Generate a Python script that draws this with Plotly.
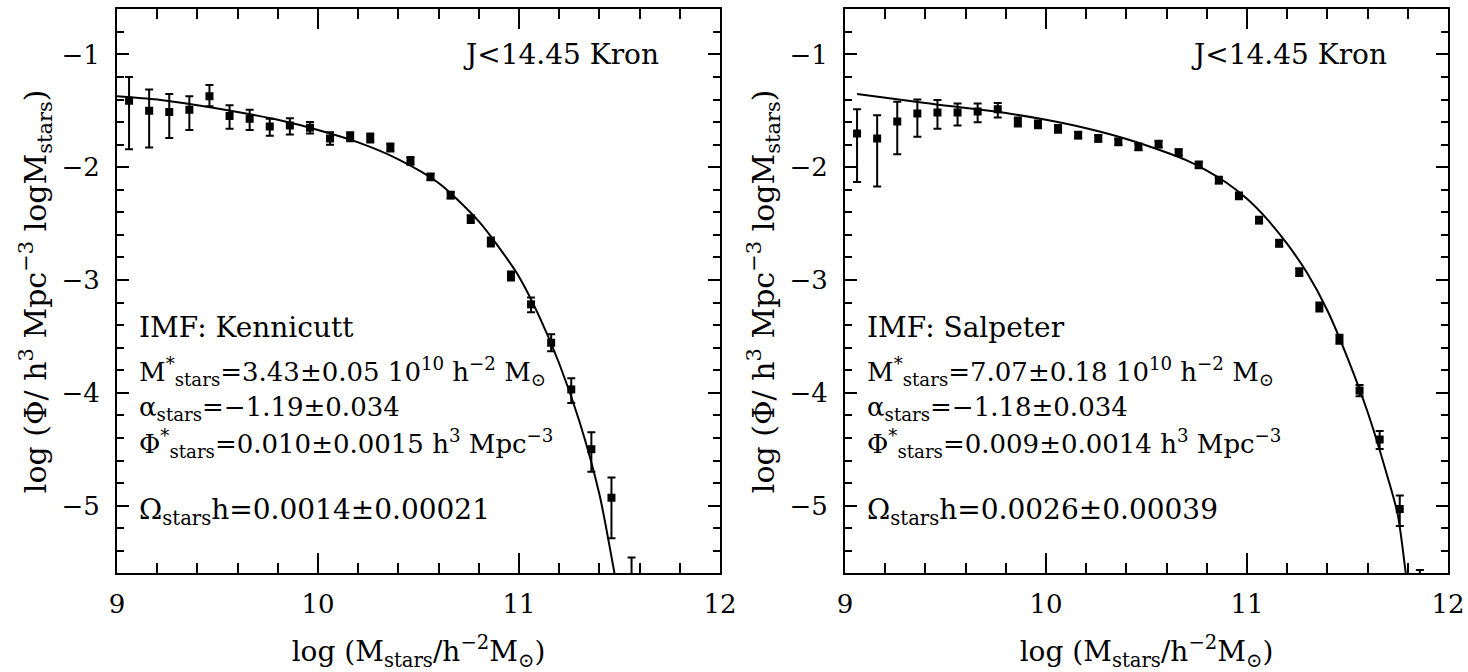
import plotly.graph_objects as go

# ---------------- data ----------------
left_x = [9.06, 9.16, 9.26, 9.36, 9.46, 9.56, 9.66, 9.76, 9.86, 9.96,
          10.06, 10.16, 10.26, 10.36, 10.46, 10.56, 10.66, 10.76, 10.86, 10.96,
          11.06, 11.16, 11.26, 11.36, 11.46, 11.56]
left_y = [-1.41, -1.50, -1.51, -1.49, -1.37, -1.545, -1.57, -1.64, -1.63, -1.65,
          -1.745, -1.73, -1.74, -1.825, -1.944, -2.086, -2.248, -2.46, -2.663, -2.964,
          -3.216, -3.556, -3.97, -4.50, -4.93, -5.90]
left_err_plus = [0.21, 0.19, 0.16, 0.12, 0.10, 0.095, 0.08, 0.07, 0.065, 0.05,
                 0.055, 0.04, 0.04, 0.035, 0.035, 0.03, 0.03, 0.035, 0.04, 0.04,
                 0.06, 0.075, 0.10, 0.15, 0.18, 0.44]
left_err_minus = [0.43, 0.325, 0.23, 0.18, 0.09, 0.115, 0.10, 0.08, 0.08, 0.05,
                  0.055, 0.04, 0.04, 0.035, 0.035, 0.03, 0.03, 0.035, 0.04, 0.04,
                  0.07, 0.075, 0.12, 0.20, 0.36, 1.0]

right_x = [9.06, 9.16, 9.26, 9.36, 9.46, 9.56, 9.66, 9.76, 9.86, 9.96,
           10.06, 10.16, 10.26, 10.36, 10.46, 10.56, 10.66, 10.76, 10.86, 10.96,
           11.06, 11.16, 11.26, 11.36, 11.46, 11.56, 11.66, 11.76, 11.86]
right_y = [-1.70, -1.745, -1.595, -1.524, -1.515, -1.515, -1.506, -1.485, -1.60, -1.62,
           -1.66, -1.716, -1.745, -1.775, -1.82, -1.796, -1.87, -1.98, -2.115, -2.255,
           -2.47, -2.674, -2.93, -3.24, -3.526, -3.98, -4.414, -5.03, -5.90]
right_err_plus = [0.215, 0.205, 0.175, 0.125, 0.11, 0.08, 0.07, 0.055, 0.04, 0.035,
                  0.035, 0.03, 0.03, 0.03, 0.03, 0.03, 0.03, 0.03, 0.03, 0.03,
                  0.03, 0.03, 0.035, 0.04, 0.04, 0.05, 0.075, 0.12, 0.33]
right_err_minus = [0.43, 0.425, 0.29, 0.205, 0.145, 0.115, 0.095, 0.075, 0.04, 0.035,
                   0.035, 0.03, 0.03, 0.03, 0.03, 0.03, 0.03, 0.03, 0.03, 0.03,
                   0.03, 0.03, 0.035, 0.04, 0.04, 0.05, 0.085, 0.15, 1.0]

left_fit_x = [9.0, 9.2, 9.4, 9.6, 9.8, 10.0, 10.2, 10.4, 10.6, 10.8, 10.9,
              11.0, 11.1, 11.2, 11.3, 11.4, 11.47, 11.5]
left_fit_y = [-1.37, -1.40, -1.45, -1.51, -1.58, -1.67, -1.78, -1.93, -2.14, -2.48, -2.71,
              -2.97, -3.32, -3.74, -4.25, -4.90, -5.55, -5.85]

right_fit_x = [9.06, 9.4, 9.8, 10.0, 10.2, 10.4, 10.6, 10.7, 10.8, 10.9, 11.0,
               11.1, 11.2, 11.3, 11.4, 11.5, 11.6, 11.7, 11.75, 11.79, 11.81]
right_fit_y = [-1.35, -1.43, -1.52, -1.58, -1.655, -1.75, -1.87, -1.94, -2.03, -2.14, -2.28,
               -2.46, -2.68, -2.94, -3.27, -3.69, -4.17, -4.75, -5.08, -5.6, -5.85]

x_ticks = [9, 10, 11, 12]
y_ticks = [-5, -4, -3, -2, -1]

panel_label = "J<14.45 Kron"
left_imf = "Kennicutt"
right_imf = "Salpeter"
left_params = ["3.43±0.05", "−1.19±0.034", "0.010±0.0015", "0.0014±0.00021"]
right_params = ["7.07±0.18", "−1.18±0.034", "0.009±0.0014", "0.0026±0.00039"]

# ---------------- figure ----------------
FONT = "DejaVu Serif"
W, H = 1468, 672
fig = go.Figure()

def add_panel(xs, ys, ep, em, fx, fy, xa, ya):
    fig.add_trace(go.Scatter(
        x=fx, y=fy, mode="lines", line=dict(color="black", width=2, shape="spline", smoothing=0.8),
        xaxis=xa, yaxis=ya, showlegend=False, hoverinfo="skip"))
    fig.add_trace(go.Scatter(
        x=xs, y=ys, mode="markers",
        marker=dict(symbol="square", size=8, color="black"),
        error_y=dict(type="data", symmetric=False, array=ep, arrayminus=em,
                     color="black", thickness=2, width=4),
        xaxis=xa, yaxis=ya, showlegend=False))

add_panel(left_x, left_y, left_err_plus, left_err_minus, left_fit_x, left_fit_y, "x", "y")
add_panel(right_x, right_y, right_err_plus, right_err_minus, right_fit_x, right_fit_y, "x2", "y2")

xdoms = [[117 / W, 720 / W], [845 / W, 1448 / W]]
ydom = [(H - 573.3) / H, (H - 9.3) / H]

xtitle = "log (M<sub>stars</sub>/h<sup>−2</sup>M<sub>⊙</sub>)"
ytitle = "log (Φ/ h<sup>3</sup> Mpc<sup>−3</sup> logM<sub>stars</sub>)"

for i, (xn, yn) in enumerate([("xaxis", "yaxis"), ("xaxis2", "yaxis2")]):
    fig.layout[xn] = dict(
        domain=xdoms[i], range=[9, 12], tickvals=x_ticks, ticktext=[str(t) for t in x_ticks],
        ticks="inside", ticklen=20, tickwidth=2, tickcolor="black",
        minor=dict(dtick=0.2, tick0=9, ticks="inside", ticklen=10, tickwidth=2, tickcolor="black"),
        showline=True, linewidth=2, linecolor="black", mirror="ticks",
        showgrid=False, zeroline=False, anchor="y" if i == 0 else "y2",
        tickfont=dict(family=FONT, size=26, color="black"), ticklabelstandoff=6,
        title=dict(text=xtitle, font=dict(family=FONT, size=28, color="black"), standoff=26),
        automargin=False)
    fig.layout[yn] = dict(
        domain=ydom, range=[-5.6, -0.6], tickvals=y_ticks, ticktext=["−5", "−4", "−3", "−2", "−1"],
        ticks="inside", ticklen=12, tickwidth=2, tickcolor="black",
        minor=dict(dtick=0.2, tick0=-1, ticks="inside", ticklen=7, tickwidth=2, tickcolor="black"),
        showline=True, linewidth=2, linecolor="black", mirror="ticks",
        showgrid=False, zeroline=False, anchor="x" if i == 0 else "x2",
        tickfont=dict(family=FONT, size=26, color="black"), ticklabelstandoff=10,
        title=dict(text=ytitle, font=dict(family=FONT, size=30, color="black"), standoff=6),
        automargin=False)

annots = []
def txt(xref, yref, x, y, s, size=28, xanchor="left", yanchor="middle"):
    annots.append(dict(xref=xref, yref=yref, x=x, y=y, text=s, showarrow=False,
                       xanchor=xanchor, yanchor=yanchor,
                       font=dict(family=FONT, size=size, color="black")))

for xr, yr, imf, p in [("x", "y", left_imf, left_params), ("x2", "y2", right_imf, right_params)]:
    txt(xr, yr, 11.705, -1.0, panel_label, xanchor="right")
    txt(xr, yr, 9.10, -3.42, "IMF: " + imf)
    txt(xr, yr, 9.10, -3.81,
        "M<sup>*</sup><sub>stars</sub>=" + p[0] + " 10<sup>10</sup> h<sup>−2</sup> M<sub>⊙</sub>", size=26)
    txt(xr, yr, 9.10, -4.14, "α<sub>stars</sub>=" + p[1], size=26)
    txt(xr, yr, 9.10, -4.45,
        "Φ<sup>*</sup><sub>stars</sub>=" + p[2] + " h<sup>3</sup> Mpc<sup>−3</sup>", size=26)
    txt(xr, yr, 9.10, -5.05, "Ω<sub>stars</sub>h=" + p[3])

fig.update_layout(
    width=W, height=H, margin=dict(l=0, r=0, t=0, b=0),
    paper_bgcolor="white", plot_bgcolor="white",
    font=dict(family=FONT, size=26, color="black"),
    annotations=annots)

fig.write_html("out.html")
